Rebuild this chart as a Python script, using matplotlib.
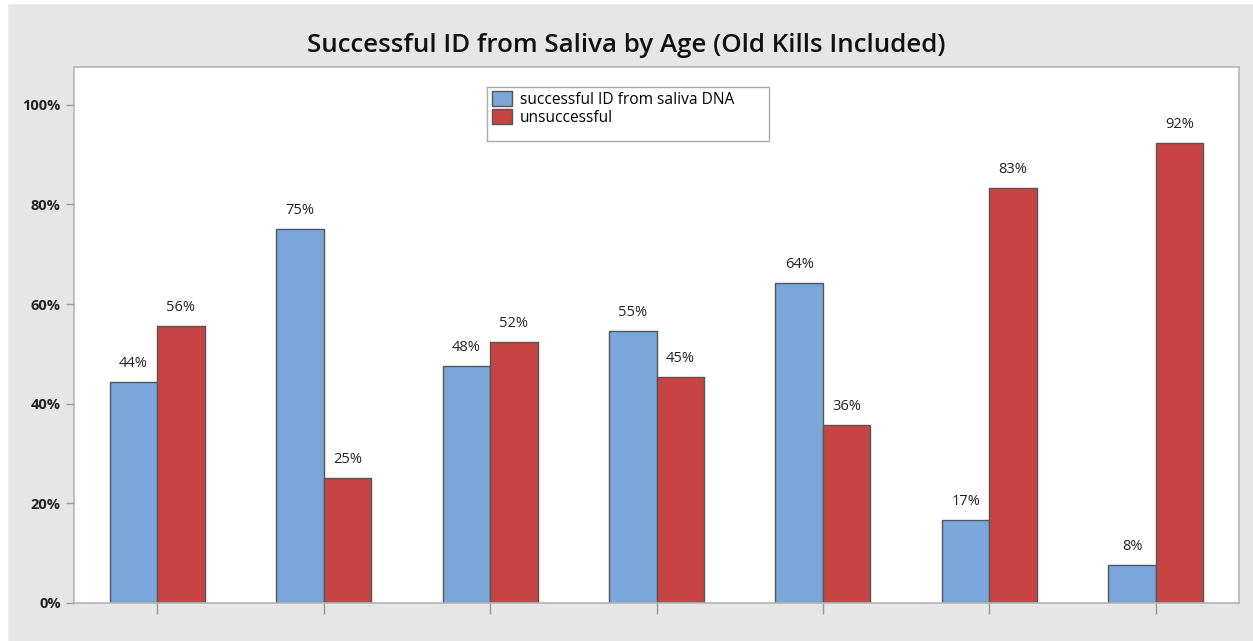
import matplotlib
matplotlib.use("Agg")
import matplotlib.pyplot as plt
import numpy as np
from matplotlib.patches import Rectangle

groups = ["1", "2", "3", "4", "5", "6", "7"]
successful = [44.4, 75.0, 47.6, 54.6, 64.3, 16.7, 7.7]
unsuccessful = [55.6, 25.0, 52.4, 45.4, 35.7, 83.3, 92.3]
series_names = ["successful ID from saliva DNA", "unsuccessful"]
yticks = [0, 20, 40, 60, 80, 100]
title = "Successful ID from Saliva by Age (Old Kills Included)"

plt.rcParams['font.family'] = ['Open Sans', 'DejaVu Sans']

fig = plt.figure(figsize=(12.53, 6.41), dpi=100)
fig.patch.set_facecolor("#e6e6e6")
ax = fig.add_axes([74/1253, 1-603/641, (1239-74)/1253, (603-67)/641])
ax.set_facecolor("white")

x = np.arange(len(groups))
w = 0.285
blue = "#7BA6D9"
red = "#C64444"
edge = "#555555"
b1 = ax.bar(x - w/2, successful, w, color=blue, edgecolor=edge, linewidth=1.0, label=series_names[0])
b2 = ax.bar(x + w/2, unsuccessful, w, color=red, edgecolor=edge, linewidth=1.0, label=series_names[1])

for bars, vals in ((b1, successful), (b2, unsuccessful)):
    for r, v in zip(bars, vals):
        ax.annotate(f"{v:.0f}%", (r.get_x() + r.get_width()/2, v), xytext=(0, 8),
                    textcoords="offset points", ha="center", va="bottom",
                    fontsize=10.5, color="#222222")

ax.set_xlim(-0.5, len(groups) - 0.5)
ax.set_ylim(0, 107.6)
ax.set_yticks(yticks)
ax.set_yticklabels([f"{t}%" for t in yticks], fontsize=10.5, fontweight="bold", color="#222222")
ax.set_xticks(x)
ax.set_xticklabels([])
ax.tick_params(axis="y", direction="out", length=6, color="#999999", width=1)
ax.tick_params(axis="x", direction="out", length=8, color="#999999", width=1)
for s in ax.spines.values():
    s.set_color("#b5b5b5")
    s.set_linewidth(1.2)

fig.text(0.5, 1-46/641, title, ha="center", va="center", fontsize=18.6, fontweight="semibold", color="#111111")

# legend frame drawn separately (box larger than entries)
fig.patches.append(Rectangle((487/1253, 1-141/641), (769-487)/1253, (141-87)/641,
                             transform=fig.transFigure, facecolor="white", edgecolor="#aaaaaa",
                             linewidth=1.0, zorder=3))
leg = fig.legend(handles=[b1, b2], labels=series_names,
                 loc="upper left", bbox_to_anchor=(489/1253, 1-88/641),
                 fontsize=11.2, frameon=False,
                 handlelength=1.3, handleheight=1.1, handletextpad=0.5,
                 labelspacing=0.1, borderaxespad=0, borderpad=0.2)
leg.set_zorder(4)

fig.patches.append(Rectangle((0, 0), 7/1253, 1, transform=fig.transFigure, color="white", zorder=0))
fig.patches.append(Rectangle((0, 1-3/641), 1, 3/641, transform=fig.transFigure, color="white", zorder=0))

fig.savefig("out.png", dpi=100, facecolor=fig.get_facecolor())
